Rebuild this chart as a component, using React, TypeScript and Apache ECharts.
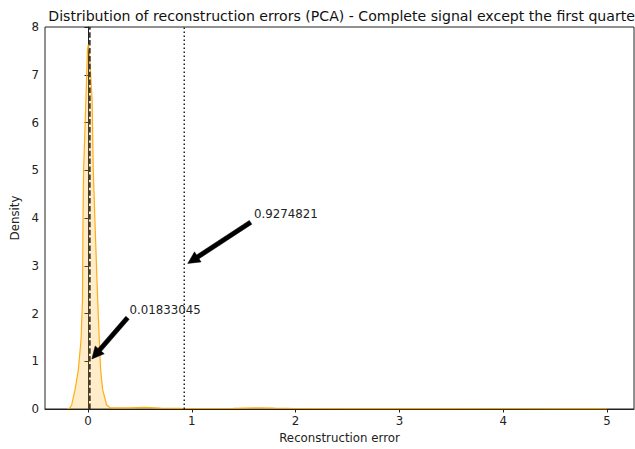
import React, { useEffect, useRef } from "react";
import * as echarts from "echarts";

// KDE of PCA reconstruction errors (x = error, y = density)
const kdeX = [
  -0.2, -0.175, -0.157, -0.125, -0.093, -0.067, -0.053, -0.048, -0.042, -0.02, -0.005, 0.003,
  0.012, 0.04, 0.051, 0.067, 0.09, 0.109, 0.122, 0.142, 0.18, 0.21, 0.3, 0.4, 0.55, 0.7, 0.9,
  1.1, 1.4, 1.65, 1.8, 2.0, 2.5, 3.0, 3.5, 4.0, 4.5, 5.0,
];
const kdeY = [
  0, 0.02, 0.084, 0.4, 0.82, 1.45, 2.28, 3.96, 5.0, 6.47, 7.52, 7.63,
  7.52, 6.47, 5.0, 3.96, 2.49, 1.445, 0.82, 0.4, 0.084, 0.03, 0.022, 0.025, 0.035, 0.02, 0.012,
  0.01, 0.012, 0.025, 0.018, 0.01, 0.008, 0.006, 0.006, 0.005, 0.004, 0.003,
];

// Reference lines
const medianError = 0.01833045;
const thresholdError = 0.9274821;

// Annotations: text position and arrow target in data coordinates
const annotLabels = ["0.01833045", "0.9274821"];
const annotTextX = [0.4, 1.6];
const annotTextY = [2, 4];
const annotTargetX = [medianError, thresholdError];
const annotTargetY = [1, 3];

const xTicks = [0, 1, 2, 3, 4, 5];
const FONT = "DejaVu Sans";
const SMALL = 11.8;

export default function App() {
  const ref = useRef<HTMLDivElement>(null);

  useEffect(() => {
    if (!ref.current) return;
    document.body.style.margin = "0";
    const chart = echarts.init(ref.current, undefined, { renderer: "svg" });

    const kdeData = kdeX.map((x, i) => [x, kdeY[i]]);
    const annotData = annotLabels.map((_, i) => [
      annotTextX[i],
      annotTextY[i],
      annotTargetX[i],
      annotTargetY[i],
      i,
    ]);

    const renderArrow = (params: any, api: any) => {
      const idx = api.value(4);
      const t = api.coord([api.value(0), api.value(1)]);
      const g = api.coord([api.value(2), api.value(3)]);
      let sx = t[0];
      let sy = t[1] + 2;
      let ex = g[0];
      let ey = g[1];
      const dx = ex - sx;
      const dy = ey - sy;
      const len = Math.hypot(dx, dy);
      const ux = dx / len;
      const uy = dy / len;
      const shrink = 0.05 * len;
      sx += ux * shrink;
      sy += uy * shrink;
      ex -= ux * shrink;
      ey -= uy * shrink;
      const nx = -uy;
      const ny = ux;
      const w = 4.5 / 2;
      const hw = 12 / 2;
      const hl = 12;
      const bx = ex - ux * hl;
      const by = ey - uy * hl;
      const pts = [
        [sx + nx * w, sy + ny * w],
        [bx + nx * w, by + ny * w],
        [bx + nx * hw, by + ny * hw],
        [ex, ey],
        [bx - nx * hw, by - ny * hw],
        [bx - nx * w, by - ny * w],
        [sx - nx * w, sy - ny * w],
      ];
      return {
        type: "group",
        children: [
          {
            type: "polygon",
            shape: { points: pts },
            style: { fill: "#000", stroke: "#000", lineWidth: 0.5 },
          },
          {
            type: "text",
            style: {
              text: annotLabels[idx],
              x: t[0],
              y: t[1] + 2,
              align: "left",
              verticalAlign: "bottom",
              fontSize: SMALL,
              fontFamily: FONT,
              fill: "#222",
            },
          },
        ],
      };
    };

    chart.setOption({
      animation: false,
      backgroundColor: "#fff",
      title: {
        text: "Distribution of reconstruction errors (PCA) - Complete signal except the first quarter",
        left: 339.5,
        top: 4,
        textAlign: "center",
        textStyle: { fontFamily: FONT, fontSize: 14.1, fontWeight: "normal", color: "#111" },
      },
      grid: {
        left: 45,
        right: 1,
        top: 27,
        bottom: 40,
        show: true,
        borderColor: "#222",
        borderWidth: 1,
        backgroundColor: "transparent",
      },
      xAxis: {
        type: "value",
        min: -0.414,
        max: 5.26,
        name: "Reconstruction error",
        nameLocation: "middle",
        nameGap: 23,
        nameTextStyle: { fontFamily: FONT, fontSize: SMALL, color: "#222" },
        splitLine: { show: false },
        axisLine: { show: true, onZero: false, lineStyle: { color: "#222", width: 1 } },
        axisTick: { show: true, length: 3.5, lineStyle: { color: "#222" }, customValues: xTicks },
        axisLabel: {
          fontFamily: FONT,
          fontSize: SMALL,
          color: "#222",
          margin: 6,
          customValues: xTicks,
        },
      },
      yAxis: {
        type: "value",
        min: 0,
        max: 8,
        interval: 1,
        name: "Density",
        nameLocation: "middle",
        nameGap: 19,
        nameRotate: 90,
        nameTextStyle: { fontFamily: FONT, fontSize: SMALL, color: "#222" },
        splitLine: { show: false },
        axisLine: { show: true, lineStyle: { color: "#222", width: 1 } },
        axisTick: { show: true, length: 3.5, lineStyle: { color: "#222" } },
        axisLabel: { fontFamily: FONT, fontSize: SMALL, color: "#222", margin: 6 },
      },
      series: [
        {
          type: "line",
          data: kdeData,
          symbol: "none",
          lineStyle: { color: "#FFA500", width: 1.2, opacity: 0.9 },
          areaStyle: { color: "rgba(255,165,0,0.3)", origin: "start" },
          z: 2,
        },
        {
          type: "line",
          data: [
            [medianError, 0],
            [medianError, 8],
          ],
          symbol: "none",
          lineStyle: { color: "#222", width: 1.5, type: [5.5, 2.4] },
          z: 3,
        },
        {
          type: "line",
          data: [
            [thresholdError, 0],
            [thresholdError, 8],
          ],
          symbol: "none",
          lineStyle: { color: "#222", width: 1.5, type: [1.5, 2.5] },
          z: 3,
        },
        {
          type: "custom",
          renderItem: renderArrow,
          data: annotData,
          encode: { x: [0, 2], y: [1, 3] },
          clip: false,
          z: 4,
        },
      ],
    });

    return () => chart.dispose();
  }, []);

  return <div ref={ref} style={{ width: 635, height: 449 }} />;
}
